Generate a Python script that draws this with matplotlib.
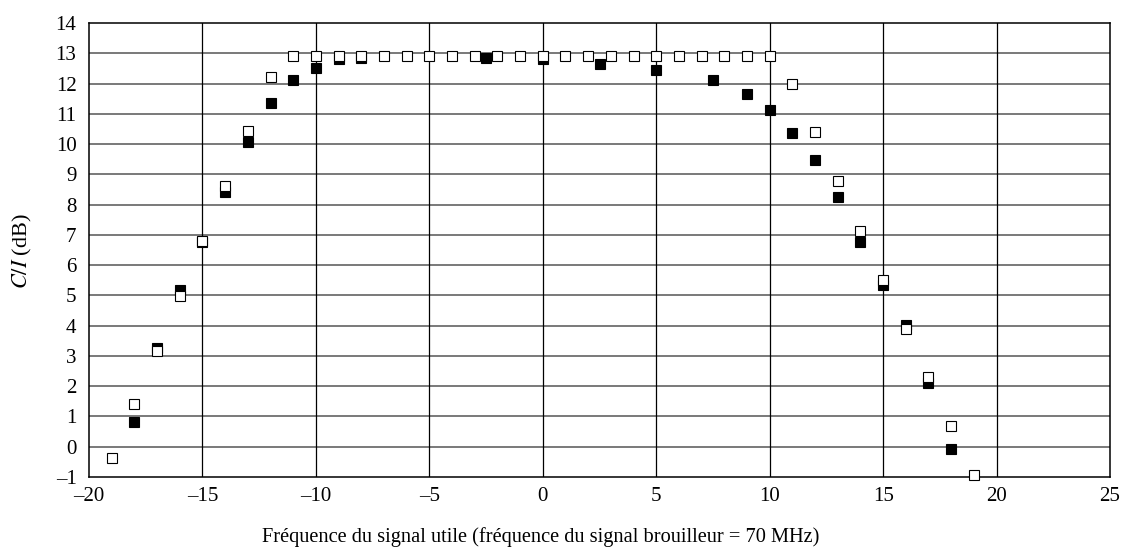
import matplotlib
matplotlib.use('Agg')
import matplotlib.pyplot as plt

# Carrés blancs (ouverts)
open_x = [-19, -18, -17, -16, -15, -14, -13, -12, -11, -10, -9, -8, -7, -6, -5, -4, -3, -2, -1,
          0, 1, 2, 3, 4, 5, 6, 7, 8, 9, 10, 11, 12, 13, 14, 15, 16, 17, 18, 19]
open_y = [-0.37, 1.42, 3.15, 4.97, 6.8, 8.62, 10.42, 12.22, 12.9, 12.9, 12.9, 12.9, 12.9, 12.9, 12.9,
          12.9, 12.9, 12.9, 12.9, 12.9, 12.9, 12.9, 12.9, 12.9, 12.9, 12.9, 12.9, 12.9, 12.9, 12.9,
          12.0, 10.4, 8.78, 7.13, 5.52, 3.9, 2.3, 0.69, -0.95]

# Carrés noirs (pleins)
filled_x = [-18, -17, -16, -15, -14, -13, -12, -11, -10, -9, -8, -2.5, 0, 2.5, 5, 7.5, 9, 10,
            11, 12, 13, 14, 15, 16, 17, 18]
filled_y = [0.83, 3.25, 5.17, 6.78, 8.43, 10.07, 11.36, 12.11, 12.52, 12.8, 12.84, 12.86, 12.8,
            12.66, 12.45, 12.11, 11.67, 11.12, 10.35, 9.47, 8.26, 6.77, 5.36, 4.03, 2.12, -0.06]

x_ticks = [-20, -15, -10, -5, 0, 5, 10, 15, 20, 25]
y_ticks = list(range(-1, 15))

plt.rcParams['font.family'] = ['Liberation Serif', 'DejaVu Serif']
plt.rcParams['mathtext.fontset'] = 'stix'

fig = plt.figure(figsize=(11.28, 5.56), dpi=100)
ax = fig.add_axes([89 / 1128, 1 - 477 / 556, (1110 - 89) / 1128, (477 - 23) / 556])

ax.set_xlim(-20, 25)
ax.set_ylim(-1, 14)
ax.set_xticks(x_ticks)
ax.set_yticks(y_ticks)
ax.tick_params(length=0, labelsize=15)
ax.tick_params(axis='y', pad=9)
ax.tick_params(axis='x', pad=7)
ax.set_xticklabels([str(t).replace('-', '\u2013') for t in x_ticks])
ax.set_yticklabels([str(t).replace('-', '\u2013') for t in y_ticks])

# grille
for t in y_ticks[1:-1]:
    ax.axhline(t, color='#555555', lw=1.1, zorder=1)
for t in x_ticks[1:-1]:
    ax.axvline(t, color='black', lw=0.9, zorder=1)
for s in ax.spines.values():
    s.set_linewidth(1.1)

ax.plot(filled_x, filled_y, 's', ms=6.5, mfc='black', mec='black', mew=0.8,
        zorder=3, clip_on=False)
ax.plot(open_x, open_y, 's', ms=6.5, mfc='white', mec='black', mew=0.8,
        zorder=4, clip_on=False)

fig.text(22 / 1128, 1 - 251 / 556, r'$C/I$ (dB)', rotation=90,
         ha='center', va='center', fontsize=16)
fig.text(541 / 1128, 1 - 537 / 556,
         'Fréquence du signal utile (fréquence du signal brouilleur = 70 MHz)',
         ha='center', va='center', fontsize=14.7)

fig.savefig('out.png', dpi=100)
